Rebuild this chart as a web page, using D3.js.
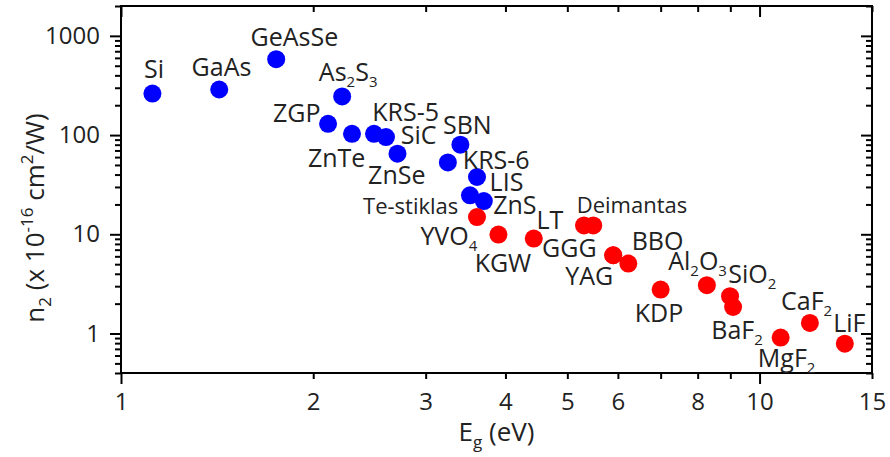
<!DOCTYPE html>
<html>
<head>
<meta charset="utf-8">
<script src="https://cdn.jsdelivr.net/npm/d3@7"></script>
<style>
  body { margin: 0; background: #fff; }
  text { font-family: "Open Sans", "Noto Sans", sans-serif; fill: #222; }
</style>
</head>
<body>
<div id="my_dataviz"></div>
<script>
// band gap (eV) and nonlinear index n2 (x 1e-16 cm^2/W)
var blueNames = ["Si", "GaAs", "GeAsSe", "As_2S_3", "ZGP", "ZnTe", "KRS-5", "SiC", "ZnSe",
                 "SBN", "KRS-6", "LIS", "Te-stiklas", "ZnS"];
var blueEg = [1.12, 1.425, 1.75, 2.22, 2.11, 2.30, 2.49, 2.60, 2.71, 3.40, 3.25, 3.61, 3.52, 3.70];
var blueN2 = [262, 288, 582, 245, 130, 103, 103, 95.5, 65, 80, 53, 37.8, 24.7, 21.6];

var redNames = ["YVO_4", "KGW", "LT", "Deimantas", "", "GGG", "YAG", "BBO", "KDP",
                "Al_2O_3", "SiO_2", "BaF_2", "MgF_2", "CaF_2", "LiF"];
var redEg = [3.61, 3.90, 4.43, 5.31, 5.49, 5.90, 5.90, 6.23, 7.0, 8.27, 8.99, 9.09, 10.79, 11.99, 13.6];
var redN2 = [14.9, 9.93, 9.05, 12.3, 12.3, 6.15, 6.15, 5.07, 2.77, 3.07, 2.38, 1.85, 0.911, 1.28, 0.79];

var xMajor = [1, 10];
var xMinor = [2, 3, 4, 5, 6, 7, 8, 9, 15];
var xLabels = [1, 2, 3, 4, 5, 6, 8, 10, 15];
var yMajor = [1, 10, 100, 1000];

// label placement relative to the dot: [dx, dy, anchor, font size]
var labelPos = {
  "Si": [-8.5, -15.7, "start"], "GaAs": [-27.6, -14, "start"], "GeAsSe": [-25.6, -12.7, "start"],
  "As_2S_3": [-23.3, -15, "start"], "ZGP": [-7.6, -1.6, "end"], "ZnTe": [-15.3, 33.4, "middle"],
  "KRS-5": [-1.7, -12.6, "start"], "SiC": [14.7, 6.6, "start"], "ZnSe": [-0.7, 30.7, "middle"],
  "SBN": [-17.4, -11, "start"], "KRS-6": [15, 6.6, "start"], "LIS": [12.6, 14, "start"],
  "Te-stiklas": [-11.7, 18.3, "end", 22], "ZnS": [9.3, 12.6, "start"],
  "YVO_4": [0.3, 28.3, "end"], "KGW": [4.5, 37.4, "middle"], "LT": [2.7, -10, "start"],
  "Deimantas": [-7.3, -12.3, "start", 22], "GGG": [-16.6, 1.7, "end"], "YAG": [0, 30, "end"],
  "BBO": [3.4, -13.3, "start"], "KDP": [-1.7, 32.4, "middle"], "Al_2O_3": [-38.7, -15, "start"],
  "SiO_2": [-1.7, -12.7, "start"], "BaF_2": [4, 31.6, "middle"], "MgF_2": [6, 29.4, "middle"],
  "CaF_2": [-3.3, -12.7, "middle"], "LiF": [-11.7, -11.6, "start"]
};

var svgWidth = 890, svgHeight = 457;
var margin = {top: 6, right: 18, bottom: 84, left: 121};
var width = svgWidth - margin.left - margin.right;
var height = svgHeight - margin.top - margin.bottom;

var svg = d3.select("#my_dataviz")
  .append("svg")
    .attr("width", svgWidth)
    .attr("height", svgHeight)
  .append("g")
    .attr("transform", "translate(" + margin.left + "," + margin.top + ")");

var x = d3.scaleLog().domain([1, 15]).range([0, width]);
var y = d3.scaleLog().domain([0.4, 2000]).range([height, 0]);

var yMinor = y.ticks().filter(function(d) { return yMajor.indexOf(d) < 0; });

function styleAxis(g) {
  g.select(".domain").remove();
  g.selectAll(".tick line").attr("stroke", "#000").attr("stroke-width", 2);
  g.selectAll(".tick text").style("font-size", "24px").attr("fill", "#222");
}
function fmtX(d) { return xLabels.indexOf(d) >= 0 ? d : ""; }

// bottom axis (ticks outward) and mirrored top axis (ticks inward)
svg.append("g").attr("transform", "translate(0," + height + ")")
  .call(d3.axisBottom(x).tickValues(xMajor).tickSize(11).tickPadding(9).tickFormat(fmtX)).call(styleAxis);
svg.append("g").attr("transform", "translate(0," + height + ")")
  .call(d3.axisBottom(x).tickValues(xMinor).tickSize(6).tickPadding(14).tickFormat(fmtX)).call(styleAxis);
svg.append("g")
  .call(d3.axisBottom(x).tickValues(xMajor).tickSize(11).tickFormat("")).call(styleAxis);
svg.append("g")
  .call(d3.axisBottom(x).tickValues(xMinor).tickSize(6).tickFormat("")).call(styleAxis);

// left axis and mirrored right axis
svg.append("g")
  .call(d3.axisLeft(y).tickValues(yMajor).tickSize(11).tickPadding(10).tickFormat(d3.format("d"))).call(styleAxis);
svg.append("g")
  .call(d3.axisLeft(y).tickValues(yMinor).tickSize(6).tickFormat("")).call(styleAxis);
svg.append("g").attr("transform", "translate(" + width + ",0)")
  .call(d3.axisLeft(y).tickValues(yMajor).tickSize(11).tickFormat("")).call(styleAxis);
svg.append("g").attr("transform", "translate(" + width + ",0)")
  .call(d3.axisLeft(y).tickValues(yMinor).tickSize(6).tickFormat("")).call(styleAxis);

// frame
svg.append("rect")
  .attr("width", width).attr("height", height)
  .attr("fill", "none").attr("stroke", "#000").attr("stroke-width", 2);

function series(names, eg, n2, color) {
  return names.map(function(n, i) { return {name: n, eg: eg[i], n2: n2[i], color: color}; });
}
var points = series(blueNames, blueEg, blueN2, "#0000ff")
  .concat(series(redNames, redEg, redN2, "#ff0000"));

svg.selectAll("circle.dot")
  .data(points)
  .enter()
  .append("circle")
    .attr("class", "dot")
    .attr("cx", function(d) { return x(d.eg); })
    .attr("cy", function(d) { return y(d.n2); })
    .attr("r", 9)
    .attr("fill", function(d) { return d.color; });

// labels, "_" marks the following digit as a subscript
var labels = svg.selectAll("text.lbl")
  .data(points.filter(function(d) { return d.name !== ""; }))
  .enter()
  .append("text")
    .attr("class", "lbl")
    .attr("x", function(d) { return x(d.eg) + labelPos[d.name][0]; })
    .attr("y", function(d) { return y(d.n2) + labelPos[d.name][1]; })
    .attr("text-anchor", function(d) { return labelPos[d.name][2]; })
    .style("font-size", function(d) { return (labelPos[d.name][3] || 25) + "px"; });

labels.each(function(d) {
  var t = d3.select(this);
  var shift = 0;
  d.name.split(/(_\d)/).forEach(function(part) {
    if (part === "") return;
    if (part[0] === "_") {
      t.append("tspan").attr("dy", 6 - shift).style("font-size", "15px").text(part.slice(1));
      shift = 6;
    } else {
      t.append("tspan").attr("dy", -shift).text(part);
      shift = 0;
    }
  });
});

// axis titles
var xt = svg.append("text")
  .attr("x", width / 2).attr("y", 441 - margin.top)
  .attr("text-anchor", "middle")
  .style("font-size", "26px");
xt.append("tspan").text("E");
xt.append("tspan").attr("dy", 7).style("font-size", "17px").text("g");
xt.append("tspan").attr("dy", -7).text(" (eV)");

var yt = svg.append("text")
  .attr("transform", "translate(" + (44 - margin.left) + "," + (218 - margin.top) + ")rotate(-90)")
  .attr("text-anchor", "middle")
  .style("font-size", "26px");
yt.append("tspan").text("n");
yt.append("tspan").attr("dy", 7).style("font-size", "17px").text("2");
yt.append("tspan").attr("dy", -7).text(" (x 10");
yt.append("tspan").attr("dy", -11).style("font-size", "17px").text("-16");
yt.append("tspan").attr("dy", 11).text(" cm");
yt.append("tspan").attr("dy", -11).style("font-size", "17px").text("2");
yt.append("tspan").attr("dy", 11).text("/W)");
</script>
</body>
</html>
